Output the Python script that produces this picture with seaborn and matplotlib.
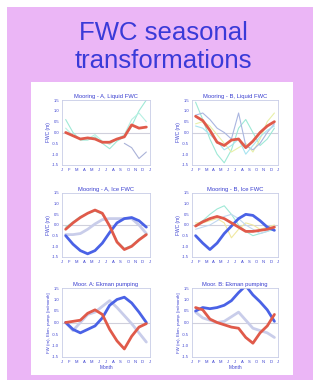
import numpy as np
import pandas as pd
import matplotlib
matplotlib.use("Agg")
import matplotlib.pyplot as plt
import seaborn as sns
from matplotlib.patches import Rectangle

# =============================================================================
# Data (mid-month values)
# =============================================================================

MONTH_X = [0.5, 1.5, 2.5, 3.5, 4.5, 5.5, 6.5, 7.5, 8.5, 9.5, 10.5, 11.5]
MONTH_LABELS = ["J", "F", "M", "A", "M", "J", "J", "A", "S", "O", "N", "D", "J"]
Y_TICKS = [1.5, 1.0, 0.5, 0.0, -0.5, -1.0, -1.5]

PANEL_TITLES = [
    "Mooring - A, Liquid FWC", "Mooring - B, Liquid FWC",
    "Mooring - A, Ice FWC", "Mooring - B, Ice FWC",
    "Moor. A: Ekman pumping", "Moor. B: Ekman pumping",
]

# Row 1: liquid FWC
liq_a_mean = [0.0, -0.15, -0.3, -0.25, -0.3, -0.45, -0.45, -0.3, -0.2, 0.35, 0.2, 0.25]
liq_a_m1 = [0.6, 0.0, -0.35, -0.35, -0.2, -0.5, -0.75, -0.4, -0.2, 0.3, 1.0, 1.5]
liq_a_m2 = [0.2, -0.15, -0.3, -0.3, -0.1, -0.4, -0.55, -0.3, -0.1, 0.6, 0.9, 0.5]
liq_a_m3 = [None, None, None, None, None, None, None, None, -0.5, -0.7, -1.2, -0.9]

liq_b_mean = [0.75, 0.55, 0.1, -0.45, -0.6, -0.35, -0.3, -0.7, -0.4, 0.0, 0.3, 0.5]
liq_b_m1 = [1.4, 0.6, -0.3, -1.0, -1.4, -0.8, 0.2, 0.6, 0.0, -0.6, -0.3, 0.2]
liq_b_m2 = [0.4, 0.5, 0.3, -0.1, -0.5, -0.9, -0.7, -0.5, -0.9, -0.3, 0.5, 0.9]
liq_b_m3 = [0.8, 0.9, 0.6, 0.2, 0.0, -0.3, 0.9, -0.6, -0.8, -0.5, 0.0, 0.4]
liq_b_m4 = [0.3, 0.2, -0.1, -0.4, -0.8, -0.6, -0.3, -1.0, -0.6, -0.2, 0.1, 0.3]

# Row 2: ice FWC
ice_a_mean = [-0.2, 0.1, 0.35, 0.55, 0.7, 0.55, -0.05, -0.8, -1.15, -1.0, -0.7, -0.45]
ice_a_thin = [-0.1, 0.15, 0.4, 0.55, 0.65, 0.5, 0.0, -0.75, -1.1, -0.95, -0.65, -0.4]
ice_a_blue = [-0.5, -0.9, -1.2, -1.35, -1.2, -0.85, -0.35, 0.1, 0.3, 0.35, 0.2, -0.1]
ice_a_gray = [-0.45, -0.45, -0.4, -0.2, 0.05, 0.25, 0.3, 0.3, 0.3, 0.3, 0.0, -0.4]

ice_b_mean = [-0.05, 0.15, 0.3, 0.4, 0.3, 0.1, -0.1, -0.3, -0.3, -0.25, -0.2, -0.1]
ice_b_blue = [-0.5, -0.85, -1.15, -0.85, -0.4, -0.05, 0.3, 0.5, 0.45, 0.2, -0.1, -0.25]
ice_b_m1 = [0.0, 0.2, 0.5, 0.75, 0.9, 0.5, 0.0, -0.3, -0.5, -0.4, -0.3, -0.2]
ice_b_m2 = [0.1, 0.1, 0.2, 0.3, 0.1, -0.6, -0.2, 0.1, 0.0, -0.2, -0.1, 0.0]
ice_b_m3 = [-0.2, -0.1, 0.0, 0.2, 0.4, 0.5, 0.3, 0.0, -0.2, -0.4, -0.3, -0.1]

# Row 3: FWC vs Ekman pumping
ek_a_mean = [0.0, 0.05, 0.1, 0.4, 0.55, 0.35, -0.3, -0.8, -1.15, -0.6, -0.2, -0.05]
ek_a_blue = [0.0, -0.3, -0.45, -0.3, -0.15, 0.2, 0.75, 1.0, 1.1, 0.85, 0.45, 0.0]
ek_a_gray = [0.0, -0.35, 0.0, 0.35, 0.45, 0.7, 0.95, 0.65, 0.3, -0.05, -0.45, -0.85]

ek_b_mean = [0.65, 0.55, 0.15, 0.0, -0.1, -0.2, -0.25, -0.65, -0.9, -0.45, -0.15, 0.35]
ek_b_blue = [0.5, 0.65, 0.6, 0.65, 0.75, 0.95, 1.3, 1.6, 1.2, 0.9, 0.55, 0.05]
ek_b_gray = [0.45, 0.2, 0.1, 0.0, 0.05, 0.25, 0.45, 0.1, -0.25, -0.35, -0.45, -0.65]

RED = "#e05a4a"
BLUE = "#4a62e6"
GRAY = "#c9cdea"
CYAN = "#9ee9d6"
TXT = "#3a3fd0"

# Each panel: list of (values, colour, width)
panels = [
    [(liq_a_m1, CYAN, 0.8), (liq_a_m2, "#b6f0e2", 0.8), (liq_a_m3, "#aab2d8", 0.8),
     (liq_a_mean, RED, 2.0)],
    [(liq_b_m1, CYAN, 0.8), (liq_b_m2, "#e8f0a8", 0.8), (liq_b_m3, "#aab6e0", 0.8),
     (liq_b_m4, "#a8e4f0", 0.8), (liq_b_mean, RED, 2.0)],
    [(ice_a_gray, GRAY, 2.0), (ice_a_thin, CYAN, 0.8), (ice_a_blue, BLUE, 2.0),
     (ice_a_mean, RED, 2.0)],
    [(ice_b_m1, CYAN, 0.8), (ice_b_m2, "#f0e8a0", 0.8), (ice_b_m3, "#c0d8f0", 0.8),
     (ice_b_blue, BLUE, 2.0), (ice_b_mean, RED, 2.0)],
    [(ek_a_gray, GRAY, 2.0), (ek_a_blue, BLUE, 2.0), (ek_a_mean, RED, 2.0)],
    [(ek_b_gray, GRAY, 2.0), (ek_b_blue, BLUE, 2.0), (ek_b_mean, RED, 2.0)],
]

# =============================================================================
# Figure
# =============================================================================

sns.set_style("white")
plt.rcParams["font.family"] = ["Liberation Sans", "DejaVu Sans"]

W, H = 313, 380
fig = plt.figure(figsize=(W / 100, H / 100), dpi=100, facecolor="white")

def px(x0, y0, x1, y1):
    return [x0 / W, 1 - y1 / H, (x1 - x0) / W, (y1 - y0) / H]

# pink slide + white picture box (behind the axes)
fig.patches.append(Rectangle((7 / W, 0), 1, 1 - 7 / H, transform=fig.transFigure,
                             facecolor="#ebb6f6", edgecolor="none", zorder=-3))
fig.patches.append(Rectangle((31 / W, 1 - 375 / H), 262 / W, 293 / H,
                             transform=fig.transFigure, facecolor="white",
                             edgecolor="none", zorder=-2))

fig.text(163 / W, 1 - 47 / H, "FWC seasonal\ntransformations", ha="center", va="center",
         fontsize=18.5, color="#3a3ad8", linespacing=1.2)

cols = [(62, 150), (192, 278)]
rows = [(100, 165), (193, 257), (288, 357)]

for i, lines in enumerate(panels):
    r, c = divmod(i, 2)
    ax = fig.add_axes(px(cols[c][0], rows[r][0], cols[c][1], rows[r][1]))
    ax.set_facecolor("white")
    ax.axhline(0, color="#d0d0dc", lw=0.8, zorder=0)
    for vals, col, lw in lines:
        df = pd.DataFrame({"month": MONTH_X, "fwc": vals}).dropna()
        sns.lineplot(data=df, x="month", y="fwc", color=col, lw=lw, ax=ax)
    ax.set_xlim(0, 12)
    ax.set_ylim(-1.5, 1.5)
    ax.set_xticks(range(13))
    ax.set_xticklabels(MONTH_LABELS)
    ax.set_yticks(Y_TICKS)
    ax.set_yticklabels([f"{v:.1f}" for v in Y_TICKS])
    ax.tick_params(labelsize=3, colors=TXT, length=1, width=0.4, pad=1)
    for sp in ax.spines.values():
        sp.set_color("#c8cce6")
        sp.set_linewidth(0.6)
    ax.set_title(PANEL_TITLES[i], fontsize=4.2, color=TXT, pad=1.5)
    ax.set_xlabel("Month" if r == 2 else "", fontsize=3.5, color=TXT, labelpad=1)
    if r < 2:
        ax.set_ylabel("FWC (m)", fontsize=3.5, color=TXT, labelpad=1)
    else:
        ax.set_ylabel("FW (m), Ekm. pump. [m/month]", fontsize=3.2, color=TXT, labelpad=1)

fig.savefig("out.png", dpi=100, facecolor="white")
